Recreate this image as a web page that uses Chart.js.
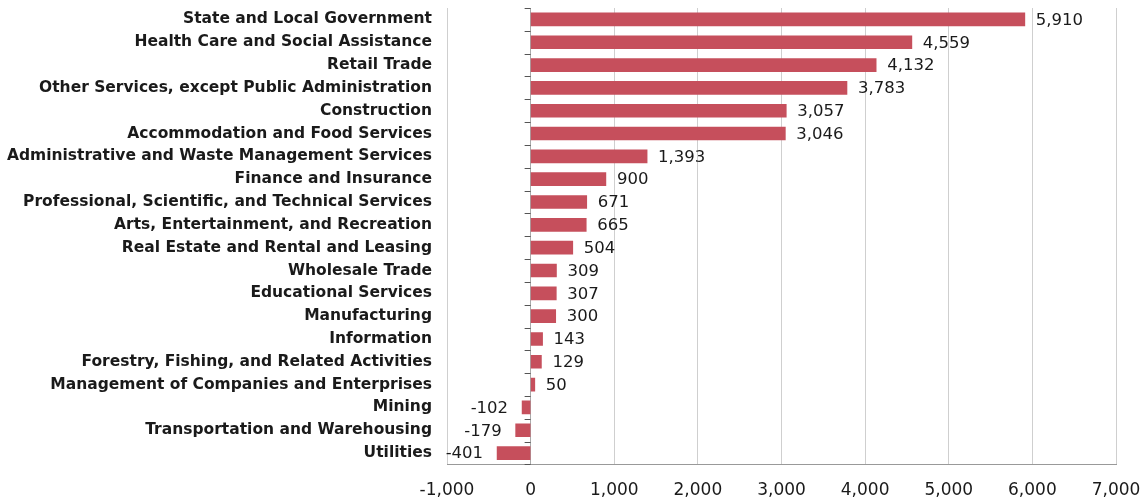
<!DOCTYPE html>
<html><head><meta charset="utf-8">
<script src="https://cdn.jsdelivr.net/npm/chart.js@4/dist/chart.umd.min.js"></script>
<style>html,body{margin:0;padding:0;background:#fff}#wrap{width:1142px;height:501px}</style>
</head><body><div id="wrap"><canvas id="c"></canvas></div>
<script>
const categories = [
 "State and Local Government","Health Care and Social Assistance","Retail Trade",
 "Other Services, except Public Administration","Construction","Accommodation and Food Services",
 "Administrative and Waste Management Services","Finance and Insurance",
 "Professional, Scientific, and Technical Services","Arts, Entertainment, and Recreation",
 "Real Estate and Rental and Leasing","Wholesale Trade","Educational Services","Manufacturing",
 "Information","Forestry, Fishing, and Related Activities","Management of Companies and Enterprises",
 "Mining","Transportation and Warehousing","Utilities"];
const values = [5910,4559,4132,3783,3057,3046,1393,900,671,665,504,309,307,300,143,129,50,-102,-179,-401];
const xTicks = [-1000,0,1000,2000,3000,4000,5000,6000,7000];

const fmt = v => v.toLocaleString('en-US');
const valueLabels = {
  id:'valueLabels',
  afterDatasetsDraw(chart){
    const ctx = chart.ctx; const meta = chart.getDatasetMeta(0);
    const xs = chart.scales.x, ys = chart.scales.y;
    const x0 = xs.getPixelForValue(0);
    const step = ys.getPixelForValue(1) - ys.getPixelForValue(0);
    ctx.save(); ctx.strokeStyle='#555'; ctx.lineWidth=1;
    for (let i=0;i<=categories.length;i++){
      const y = Math.round(ys.getPixelForValue(i) - step/2)+0.5;
      ctx.beginPath(); ctx.moveTo(x0-6,y); ctx.lineTo(x0,y); ctx.stroke();
    }
    ctx.restore();
    ctx.save(); ctx.font = '16.5px "DejaVu Sans"'; ctx.fillStyle='#1a1a1a'; ctx.textBaseline='middle';
    meta.data.forEach((bar,i)=>{
      const v = values[i];
      if (v>=0){ ctx.textAlign='left'; ctx.fillText(fmt(v), bar.x+11, bar.y+1); }
      else { ctx.textAlign='right'; ctx.fillText(fmt(v), bar.x-14, bar.y+1); }
    });
    ctx.restore();
  }
};
new Chart(document.getElementById('c'),{
  type:'bar',
  data:{labels:categories,datasets:[{data:values,backgroundColor:'#c64f5c',barThickness:13}]},
  options:{
    indexAxis:'y', responsive:true, maintainAspectRatio:false, animation:false,
    layout:{padding:{top:8,right:26,bottom:0,left:0}},
    plugins:{legend:{display:false},tooltip:{enabled:false}},
    scales:{
      x:{min:-1000,max:7000,afterBuildTicks(s){s.ticks=xTicks.map(v=>({value:v}));},
        afterFit(s){s.paddingLeft=0;s.paddingRight=0;s.height=36.5;},
        grid:{color:ctx=>ctx.tick && ctx.tick.value===0?'#aaa':'#cfcfcf',drawTicks:false},
        border:{display:true,color:'#999'},
        ticks:{padding:16,color:'#1a1a1a',font:{family:'"DejaVu Sans"',size:17},callback:v=>fmt(v)}},
      y:{grid:{display:false,drawTicks:false},border:{display:false},
        afterFit(s){s.width=447;s.paddingTop=0;s.paddingBottom=0;},
        ticks:{padding:15,color:'#1a1a1a',autoSkip:false,font:{family:'"DejaVu Sans"',size:15.5,weight:'bold'}}}
    }
  },
  plugins:[valueLabels]
});
</script></body></html>
